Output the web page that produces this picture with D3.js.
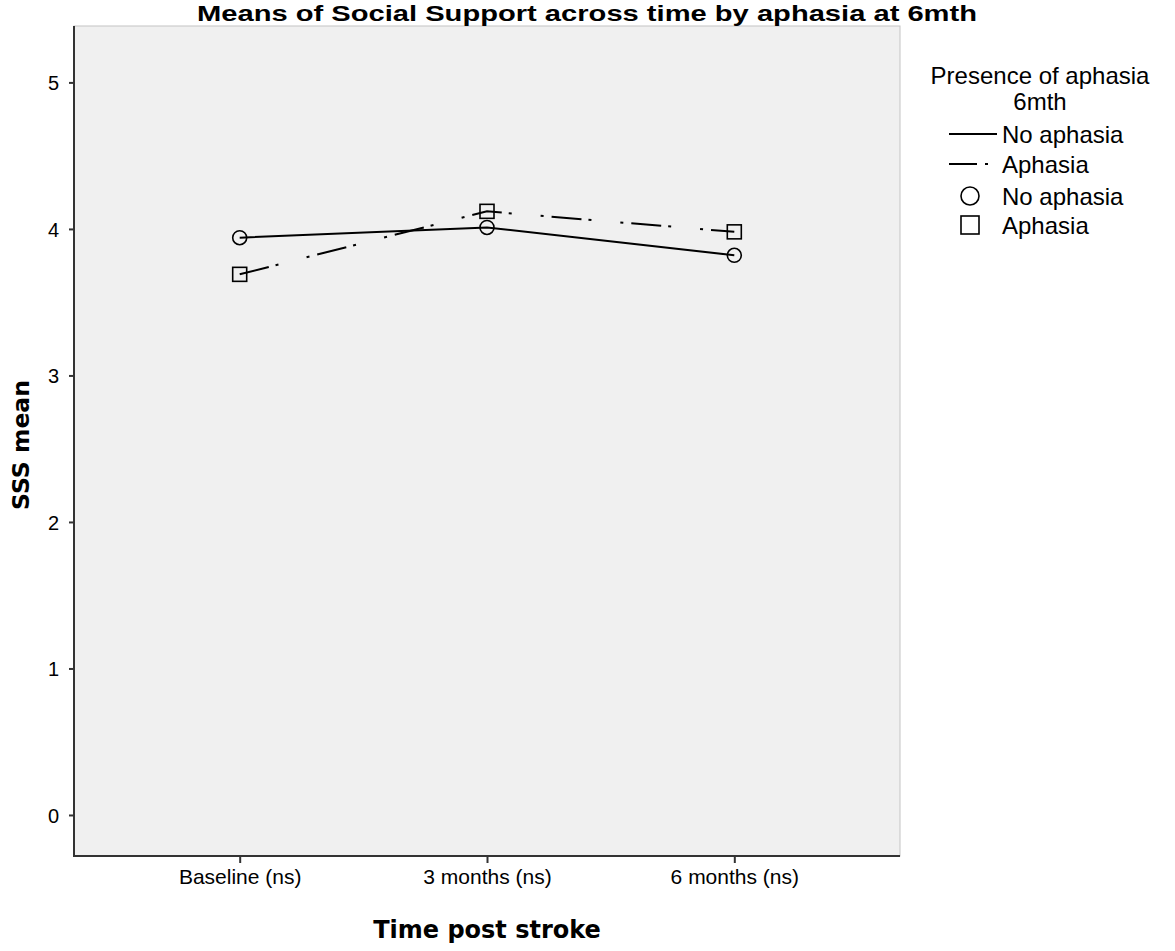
<!DOCTYPE html>
<html>
<head>
<meta charset="utf-8">
<script src="https://cdn.jsdelivr.net/npm/d3@7"></script>
<style>
  body { margin: 0; background: #fff; }
  text { font-family: "Liberation Sans", Arial, sans-serif; fill: #000; }
</style>
</head>
<body>
<div id="chart"></div>
<script>
// Données
var timepoints = ["Baseline (ns)", "3 months (ns)", "6 months (ns)"];
var groups = ["No aphasia", "Aphasia"];
var noAphasia = [3.94, 4.01, 3.82];
var aphasia = [3.69, 4.12, 3.98];
var yTicks = [0, 1, 2, 3, 4, 5];

var series = [
    { name: groups[0], values: noAphasia, dash: null, marker: "circle" },
    { name: groups[1], values: aphasia, dash: "30,7,3,29,3,8", marker: "square" }
];

// Dimensions
var width = 1175, height = 951;
var plot = { left: 74, right: 900, top: 26, bottom: 856 };

var svg = d3.select("#chart").append("svg")
    .attr("width", width)
    .attr("height", height);

// Echelles
var x = d3.scalePoint()
    .domain(timepoints)
    .range([plot.left, plot.right])
    .padding(0.67);
var y = d3.scaleLinear()
    .domain([-0.28, 5.385])
    .range([plot.bottom, plot.top]);

// fond du graphique
svg.append("rect")
    .attr("x", plot.left)
    .attr("y", plot.top)
    .attr("width", plot.right - plot.left)
    .attr("height", plot.bottom - plot.top)
    .attr("fill", "#f0f0f0")
    .attr("stroke", "#c4c4c4")
    .attr("stroke-width", 1);

// axe Y
var yAxis = svg.append("g")
    .attr("transform", "translate(" + plot.left + ",0)")
    .call(d3.axisLeft(y).tickValues(yTicks).tickFormat(d3.format("d"))
        .tickSize(5).tickPadding(10).tickSizeOuter(0));
yAxis.select(".domain").remove();
yAxis.selectAll(".tick line").attr("stroke", "#333").attr("stroke-width", 2);
yAxis.selectAll(".tick text")
    .style("font-family", "Liberation Sans, Arial, sans-serif")
    .style("font-size", "20px")
    .attr("dy", "0.36em");

// axe X
var xAxis = svg.append("g")
    .attr("transform", "translate(0," + plot.bottom + ")")
    .call(d3.axisBottom(x).tickSize(7).tickPadding(6).tickSizeOuter(0));
xAxis.select(".domain").remove();
xAxis.selectAll(".tick line").attr("stroke", "#333").attr("stroke-width", 2);
xAxis.selectAll(".tick text")
    .style("font-family", "Liberation Sans, Arial, sans-serif")
    .style("font-size", "21px");

// lignes des axes
svg.append("line")
    .attr("x1", plot.left).attr("x2", plot.left)
    .attr("y1", plot.top).attr("y2", plot.bottom + 1)
    .attr("stroke", "#333").attr("stroke-width", 2);
svg.append("line")
    .attr("x1", plot.left - 1).attr("x2", plot.right)
    .attr("y1", plot.bottom).attr("y2", plot.bottom)
    .attr("stroke", "#333").attr("stroke-width", 2);

// lignes
var line = d3.line()
    .x(function (d, i) { return x(timepoints[i]); })
    .y(function (d) { return y(d); });

series.forEach(function (s) {
    svg.append("path")
        .datum(s.values)
        .attr("d", line)
        .attr("fill", "none")
        .attr("stroke", "#000")
        .attr("stroke-width", 2)
        .attr("stroke-dasharray", s.dash);
});

// marqueurs
function drawMarker(g, type, cx, cy, size) {
    if (type === "circle") {
        g.append("circle")
            .attr("cx", cx).attr("cy", cy).attr("r", size / 2)
            .attr("fill", "none").attr("stroke", "#000").attr("stroke-width", 1.6);
    } else {
        g.append("rect")
            .attr("x", cx - size / 2).attr("y", cy - size / 2)
            .attr("width", size).attr("height", size)
            .attr("fill", "none").attr("stroke", "#000").attr("stroke-width", 1.6);
    }
}

series.forEach(function (s) {
    s.values.forEach(function (v, i) {
        drawMarker(svg, s.marker, x(timepoints[i]), y(v), 14);
    });
});

// titre
svg.append("text")
    .attr("x", 587)
    .attr("y", 21)
    .attr("text-anchor", "middle")
    .attr("textLength", 780)
    .attr("lengthAdjust", "spacingAndGlyphs")
    .style("font-weight", "bold")
    .style("font-size", "22px")
    .text("Means of Social Support across time by aphasia at 6mth");

// titres des axes
svg.append("text")
    .attr("x", (plot.left + plot.right) / 2)
    .attr("y", 938)
    .attr("text-anchor", "middle")
    .style("font-family", "DejaVu Sans, sans-serif")
    .style("font-weight", "bold")
    .style("font-size", "24px")
    .text("Time post stroke");

svg.append("text")
    .attr("transform", "translate(29,445) rotate(-90)")
    .attr("text-anchor", "middle")
    .style("font-family", "DejaVu Sans, sans-serif")
    .style("font-weight", "bold")
    .style("font-size", "23.5px")
    .text("SSS mean");

// légende
var legend = svg.append("g");
var legendX = 1040;
legend.append("text")
    .attr("x", legendX).attr("y", 84)
    .attr("text-anchor", "middle")
    .style("font-size", "24px")
    .text("Presence of aphasia");
legend.append("text")
    .attr("x", legendX).attr("y", 110)
    .attr("text-anchor", "middle")
    .style("font-size", "24px")
    .text("6mth");

var rowY = [134, 164, 196, 225];
series.forEach(function (s, i) {
    legend.append("line")
        .attr("x1", 949).attr("x2", s.dash ? 988 : 997)
        .attr("y1", rowY[i]).attr("y2", rowY[i])
        .attr("stroke", "#000").attr("stroke-width", 2)
        .attr("stroke-dasharray", s.dash ? "28,8,3,100" : null);
    legend.append("text")
        .attr("x", 1002).attr("y", rowY[i] + 9)
        .style("font-size", "24px")
        .text(s.name);
});
series.forEach(function (s, i) {
    drawMarker(legend, s.marker, 970, rowY[i + 2], 18);
    legend.append("text")
        .attr("x", 1002).attr("y", rowY[i + 2] + 9)
        .style("font-size", "24px")
        .text(s.name);
});
</script>
</body>
</html>
